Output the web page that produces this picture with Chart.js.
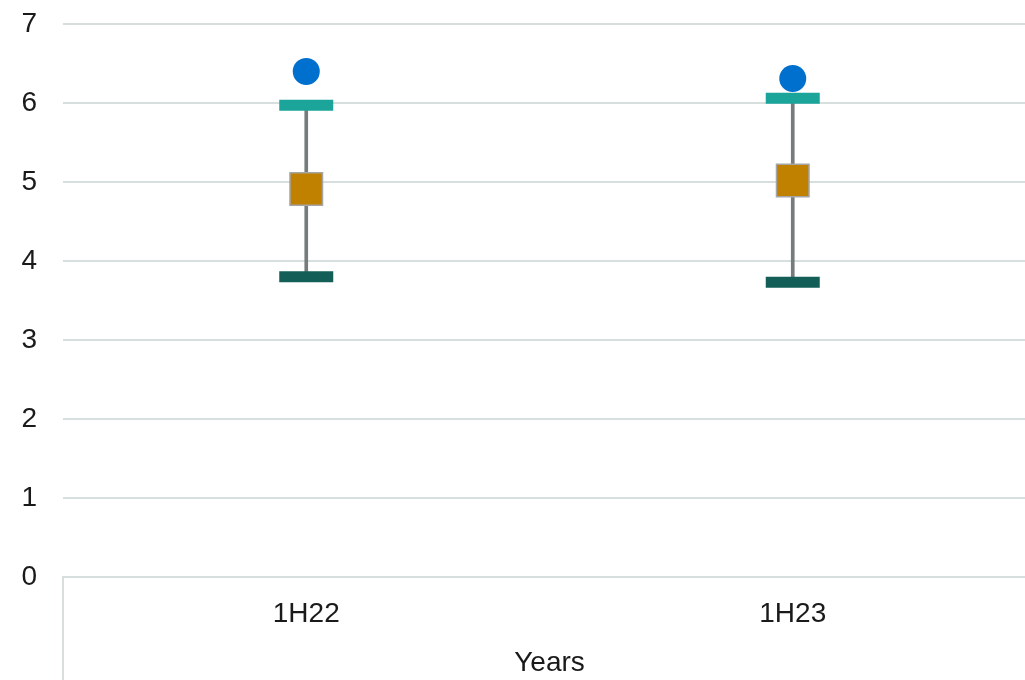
<!DOCTYPE html>
<html>
<head>
<meta charset="utf-8">
<script src="https://cdn.jsdelivr.net/npm/chart.js@4"></script>
<style>
  html, body { margin: 0; padding: 0; background: #fff; overflow: hidden; }
  #wrap { width: 1036px; height: 680px; }
</style>
</head>
<body>
<div id="wrap"><canvas id="chart" width="1036" height="680"></canvas></div>
<script>
// values
const categories = ['1H22', '1H23'];
const highValues = [5.97, 6.06];
const midValues = [4.91, 5.02];
const lowValues = [3.80, 3.73];
const dotValues = [6.40, 6.31];
const yTicks = [0, 1, 2, 3, 4, 5, 6, 7];

const gridColor = '#d6dfdd';
const textColor = '#1a1a1a';
const font = { family: 'Arial, "Liberation Sans", sans-serif', size: 28 };

const ctx = document.getElementById('chart').getContext('2d');
const chart = new Chart(ctx, {
  type: 'bar',
  data: {
    labels: categories,
    datasets: [
      {
        // whisker between low and high
        type: 'bar',
        data: lowValues.map((lo, i) => [lo, highValues[i]]),
        backgroundColor: '#767b7b',
        barThickness: 3,
        order: 5
      },
      {
        type: 'line',
        data: highValues,
        showLine: false,
        pointStyle: 'line',
        pointRadius: 27,
        pointBorderWidth: 11,
        pointBorderColor: '#1ba59a',
        order: 4
      },
      {
        type: 'line',
        data: lowValues,
        showLine: false,
        pointStyle: 'line',
        pointRadius: 27,
        pointBorderWidth: 11,
        pointBorderColor: '#135f58',
        order: 3
      },
      {
        type: 'line',
        data: midValues,
        showLine: false,
        pointStyle: 'rect',
        pointRadius: 23,
        pointBorderWidth: 1.5,
        pointBorderColor: '#a5a5a5',
        pointBackgroundColor: '#c08000',
        order: 2
      },
      {
        type: 'line',
        data: dotValues,
        showLine: false,
        pointStyle: 'circle',
        pointRadius: 13.5,
        pointBorderWidth: 0,
        pointBackgroundColor: '#0070cf',
        order: 1
      }
    ]
  },
  options: {
    responsive: false,
    animation: false,
    layout: { autoPadding: false, padding: { top: 24, right: 0, left: 0, bottom: 0 } },
    plugins: {
      legend: { display: false },
      tooltip: { enabled: false }
    },
    scales: {
      x: {
        offset: true,
        grid: {
          offset: true,
          drawOnChartArea: false,
          tickLength: 103,
          lineWidth: 2,
          // only the left edge line runs down below the axis
          color: (c) => c.index === 0 ? gridColor : 'rgba(0,0,0,0)'
        },
        border: { display: true, color: gridColor, width: 2 },
        ticks: { font: font, color: textColor, padding: -83 },
        title: {
          display: true,
          text: 'Years',
          font: font,
          color: textColor,
          padding: { top: 0, bottom: 0 }
        },
        afterFit: (scale) => { scale.height = 103; }
      },
      y: {
        min: 0,
        max: 7,
        afterBuildTicks: (scale) => { scale.ticks = yTicks.map(v => ({ value: v })); },
        grid: { color: gridColor, lineWidth: 2, drawTicks: false },
        border: { display: false },
        ticks: { font: font, color: textColor, padding: 26 },
        afterFit: (scale) => {
          scale.width = 63;
          scale.paddingTop = 0;
          scale.paddingBottom = 0;
        }
      }
    }
  }
});
</script>
</body>
</html>
